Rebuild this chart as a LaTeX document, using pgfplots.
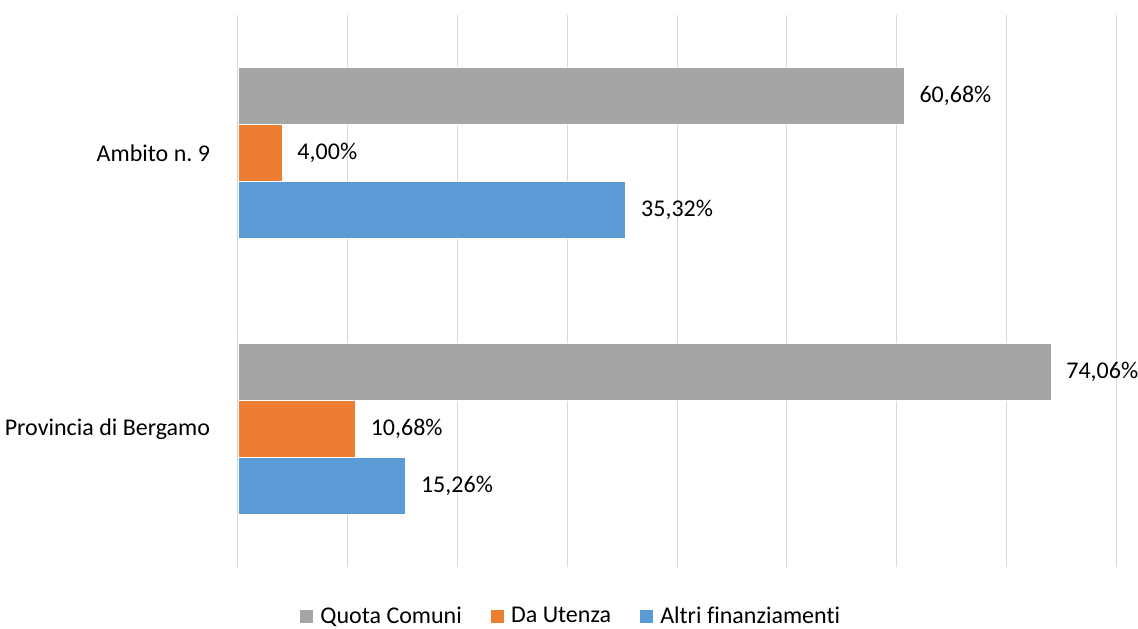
\documentclass[border=0pt]{standalone}
\usepackage{fontspec}
\setmainfont[Ligatures=NoCommon]{Carlito}
\usepackage{pgfplots}
\pgfplotsset{compat=1.18}

\definecolor{qgray}{HTML}{A5A5A5}
\definecolor{qorange}{HTML}{ED7D31}
\definecolor{qblue}{HTML}{5B9BD5}
\definecolor{gridc}{HTML}{D9D9D9}

\begin{document}
\frenchspacing
\begin{tikzpicture}
\begin{axis}[
    scale only axis,
    width=658.5pt, height=414pt,
    xbar, bar width=42.75pt,
    xmin=0, xmax=80, xtick distance=10,
    ymin=-0.5, ymax=1.5,
    ytick={0,1},
    yticklabels={Provincia di Bergamo, Ambito n.\ 9},
    xticklabels={},
    xmajorgrids,
    major grid style={gridc, line width=0.75pt},
    axis line style={draw=none},
    tick style={draw=none},
    font=\fontsize{18pt}{21pt}\selectfont,
    yticklabel style={inner sep=0pt, xshift=-16.5pt},
    /pgf/number format/assume math mode=true,
    nodes near coords={\pgfmathprintnumber[fixed,fixed zerofill,precision=2,use comma]{\pgfplotspointmeta}\%},
    every node near coord/.append style={anchor=west, inner sep=0pt, xshift=11.5pt, font=\fontsize{18pt}{21pt}\selectfont},
    clip=false,
    legend columns=-1,
    legend style={at={(0.3793,-0.089)}, anchor=center, draw=none, inner sep=1pt,
        font=\fontsize{18pt}{21pt}\selectfont,
        /tikz/every odd column/.append style={column sep=3pt},
        /tikz/every even column/.append style={column sep=19pt}},
    legend image code/.code={\fill[#1] (0pt,-5.25pt) rectangle (10.5pt,5.25pt);},
]
\addplot[fill=qgray, draw=white, line width=0.4pt, bar shift=42.75pt] coordinates {(74.06,0) (60.68,1)};
\addlegendentry{Quota Comuni}
\addplot[fill=qorange, draw=white, line width=0.4pt, bar shift=0pt] coordinates {(10.68,0) (4.00,1)};
\addlegendentry{Da Utenza}
\addplot[fill=qblue, draw=white, line width=0.4pt, bar shift=-42.75pt] coordinates {(15.26,0) (35.32,1)};
\addlegendentry{Altri finanziamenti}
\end{axis}
\pgfresetboundingbox
\path[use as bounding box] (-178.5pt,-45.75pt) rectangle (675pt,425.25pt);
\end{tikzpicture}
\end{document}
